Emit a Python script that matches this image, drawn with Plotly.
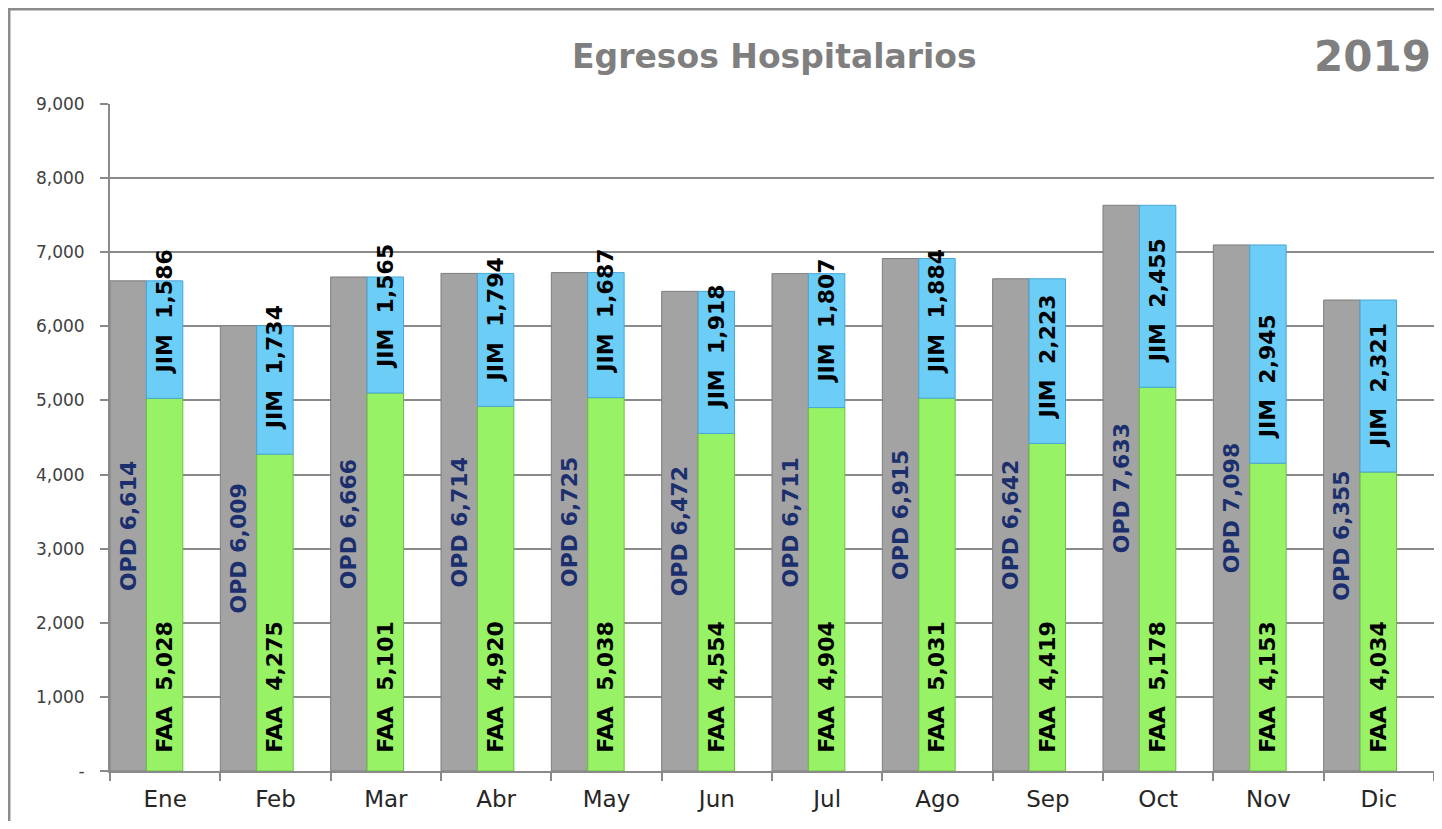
import plotly.graph_objects as go

months = ["Ene", "Feb", "Mar", "Abr", "May", "Jun", "Jul", "Ago", "Sep", "Oct", "Nov", "Dic"]
opd = [6614, 6009, 6666, 6714, 6725, 6472, 6711, 6915, 6642, 7633, 7098, 6355]
faa = [5028, 4275, 5101, 4920, 5038, 4554, 4904, 5031, 4419, 5178, 4153, 4034]
jim = [1586, 1734, 1565, 1794, 1687, 1918, 1807, 1884, 2223, 2455, 2945, 2321]

title = "Egresos Hospitalarios"
year = "2019"
ytick_vals = list(range(0, 9001, 1000))
ytick_text = ["-"] + [f"{v:,}" for v in ytick_vals[1:]]

NB = "\u00a0"
lab_font = "DejaVu Sans"

fig = go.Figure()
fig.add_trace(go.Bar(
    x=months, y=opd, offset=-0.5, width=0.33,
    marker=dict(color="#a3a3a3", line=dict(color="#7d7d7d", width=1)),
    text=[f"<b>OPD {v:,}</b>" for v in opd],
    textposition="inside", insidetextanchor="middle", textangle=-90,
    constraintext="none",
    textfont=dict(family=lab_font, size=22, color="#1b2f6e"),
    name="OPD", showlegend=False, hoverinfo="skip",
))
fig.add_trace(go.Bar(
    x=months, y=faa, base=[0] * len(faa), offset=-0.17, width=0.33,
    marker=dict(color="#97f266", line=dict(color="#6cc040", width=1)),
    text=[f"<b>{NB*2}FAA{NB}{NB}{v:,}</b>" for v in faa],
    textposition="inside", insidetextanchor="start", textangle=-90,
    constraintext="none",
    textfont=dict(family=lab_font, size=22, color="#000000"),
    name="FAA", showlegend=False, hoverinfo="skip",
))
fig.add_trace(go.Bar(
    x=months, y=jim, base=faa, offset=-0.17, width=0.33,
    marker=dict(color="#6ccdf7", line=dict(color="#4aa6d6", width=1)),
    text=[f"<b>{NB*3}JIM{NB}{NB}{v:,}</b>" for v in jim],
    textposition="inside", insidetextanchor="start", textangle=-90,
    constraintext="none",
    textfont=dict(family=lab_font, size=22, color="#000000"),
    name="JIM", showlegend=False, hoverinfo="skip",
))

fig.update_layout(
    width=1426, height=813,
    margin=dict(l=102, r=0, t=96, b=50),
    paper_bgcolor="white", plot_bgcolor="white",
    barmode="overlay",
    showlegend=False,
    xaxis=dict(
        type="category", categoryorder="array", categoryarray=months,
        tickson="boundaries", ticks="outside", ticklen=8, tickwidth=2,
        tickcolor="#8a8a8a",
        showline=True, linecolor="#8a8a8a", linewidth=2,
        showgrid=False,
        tickfont=dict(family="DejaVu Sans", size=23, color="#262626"),
        ticklabelstandoff=6,
        range=[-0.5, 11.5],
    ),
    yaxis=dict(
        range=[0, 9000], tickvals=ytick_vals, ticktext=ytick_text,
        ticks="outside", ticklen=8, tickwidth=2, tickcolor="#8a8a8a",
        showline=True, linecolor="#8a8a8a", linewidth=2,
        showgrid=True, gridcolor="#8a8a8a", gridwidth=2,
        tickfont=dict(family="DejaVu Sans", size=17, color="#404040"),
        ticklabelstandoff=12,
        zeroline=False,
    ),
    annotations=[
        dict(text=f"<b>{title}</b>", xref="paper", yref="paper",
             x=0.502, y=1.0705, xanchor="center", yanchor="middle",
             showarrow=False,
             font=dict(family="DejaVu Sans", size=33, color="#7f7f7f")),
        dict(text=f"<b>{year}</b>", xref="paper", yref="paper",
             x=0.999, y=1.0705, xanchor="right", yanchor="middle",
             showarrow=False,
             font=dict(family="DejaVu Sans", size=42, color="#7f7f7f")),
    ],
    shapes=[
        dict(type="rect", xref="paper", yref="paper",
             x0=-0.0763, x1=1.02, y0=-0.12, y1=1.1424,
             line=dict(color="#8c8c8c", width=3), fillcolor="rgba(0,0,0,0)",
             layer="below"),
    ],
)

fig.write_html("out.html")
